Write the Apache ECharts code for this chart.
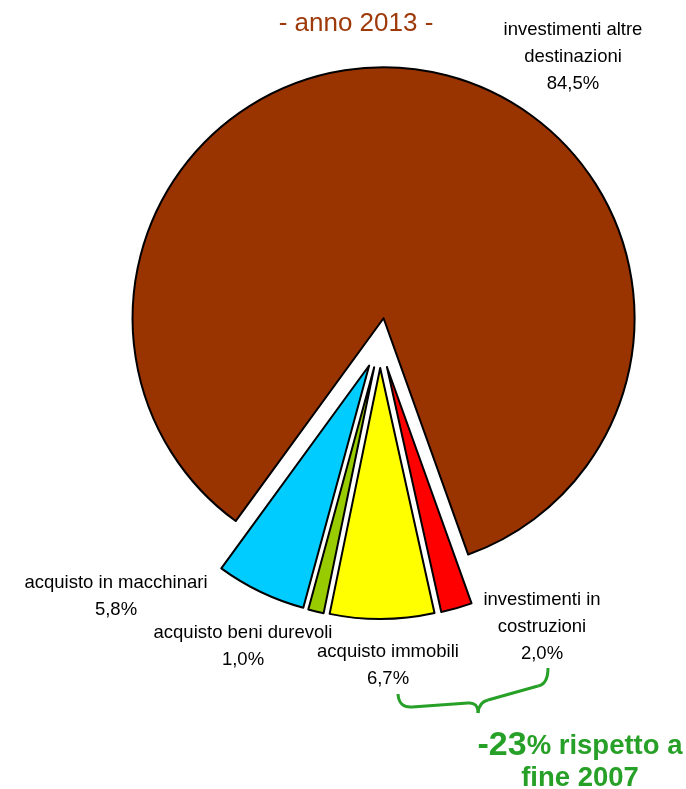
<!DOCTYPE html>
<html>
<head>
<meta charset="utf-8">
<script src="https://cdn.jsdelivr.net/npm/echarts@6/dist/echarts.min.js"></script>
<style>
  html, body { margin: 0; padding: 0; background: #fff; }
  #chart { width: 686px; height: 789px; }
</style>
</head>
<body>
<div id="chart"></div>
<script>
// slices in clockwise order, starting from the right edge of the big slice
const categories = ['investimenti in\ncostruzioni', 'acquisto immobili', 'acquisto beni durevoli', 'acquisto in macchinari', 'investimenti altre\ndestinazioni']
const shares = [2.0, 6.7, 1.0, 5.8, 84.5]
const subtitle = '- anno 2013 -'
const noteChange = '-23'
const noteText = ['% rispetto a', 'fine 2007']

const sliceColors = ['#ff0000', '#ffff00', '#99cc00', '#00ccff', '#993300']
// label block centres, where excel left them
const labelCenters = [[542, 627], [388, 665], [243, 646], [116, 596], [573, 57]]

const fmt = v => v.toFixed(1).replace('.', ',') + '%'

const green = '#27a027'
const braceStyle = { stroke: green, lineWidth: 3, fill: null }
// curly brace under the two building-related slices
const brace = [
  { type: 'bezierCurve', shape: { x1: 398, y1: 694, cpx1: 399, cpy1: 708, x2: 412, y2: 707 } },
  { type: 'line', shape: { x1: 412, y1: 707, x2: 468, y2: 703 } },
  { type: 'bezierCurve', shape: { x1: 468, y1: 703, cpx1: 478, cpy1: 702, x2: 478, y2: 713 } },
  { type: 'bezierCurve', shape: { x1: 478, y1: 713, cpx1: 479, cpy1: 702, x2: 488, y2: 700 } },
  { type: 'line', shape: { x1: 488, y1: 700, x2: 538, y2: 686 } },
  { type: 'bezierCurve', shape: { x1: 538, y1: 686, cpx1: 548, cpy1: 684, x2: 548, y2: 668 } },
].map(el => ({ ...el, style: braceStyle, silent: true }))

// slice labels, one text block per category
const labels = categories.map((name, i) => ({
  type: 'text',
  x: labelCenters[i][0],
  y: labelCenters[i][1],
  silent: true,
  style: {
    text: name + '\n' + fmt(shares[i]),
    fill: '#000',
    fontSize: 18.5,
    fontFamily: 'Liberation Sans',
    lineHeight: 27,
    align: 'center',
    verticalAlign: 'middle',
  },
}))

const chart = echarts.init(document.getElementById('chart'))

chart.setOption({
  animation: false,
  title: [
    {
      text: subtitle,
      left: 351, top: 6, textAlign: 'center',
      textStyle: { color: '#9e3a0a', fontSize: 26, fontWeight: 'normal', fontFamily: 'Liberation Sans' },
    },
    {
      text: '{a|' + noteChange + '}{b|' + noteText[0] + '}\n{b|' + noteText[1] + '}',
      left: 575, top: 725, textAlign: 'center',
      textStyle: {
        lineHeight: 32,
        rich: {
          a: { color: green, fontSize: 34, fontWeight: 'bold', fontFamily: 'Liberation Sans', lineHeight: 32 },
          b: { color: green, fontSize: 27.5, fontWeight: 'bold', fontFamily: 'Liberation Sans', lineHeight: 32 },
        },
      },
    },
  ],
  graphic: brace.concat(labels),
  series: [
    {
      type: 'pie',
      center: [380, 343],
      radius: 251,
      startAngle: -70.3,
      clockwise: true,
      selectedMode: 'multiple',
      selectedOffset: 25,
      avoidLabelOverlap: false,
      emphasis: { disabled: true },
      itemStyle: { borderColor: '#000', borderWidth: 2 },
      select: { itemStyle: { borderColor: '#000', borderWidth: 2 } },
      label: { show: false },
      labelLine: { show: false },
      data: categories.map((name, i) => ({
        name,
        value: shares[i],
        selected: true,
        itemStyle: { color: sliceColors[i] },
      })),
    },
  ],
})
</script>
</body>
</html>
